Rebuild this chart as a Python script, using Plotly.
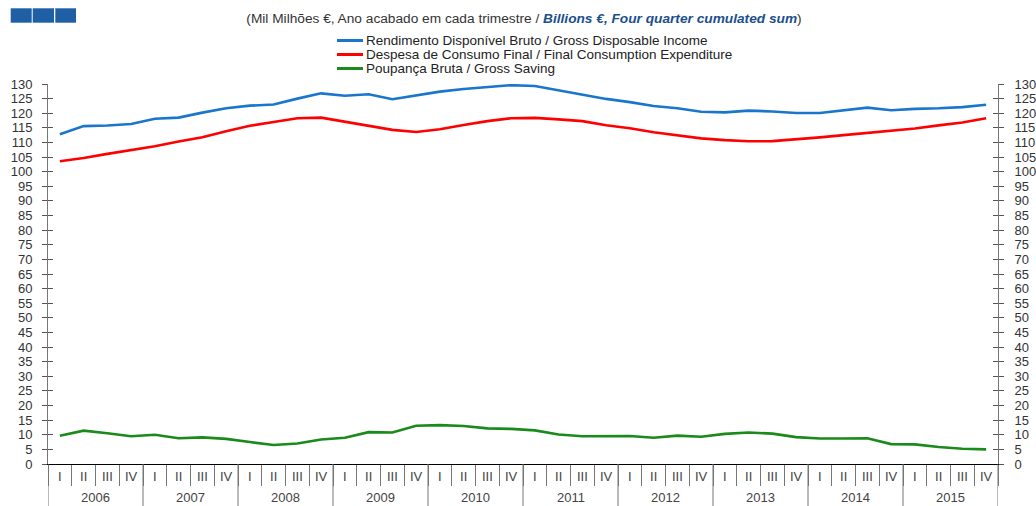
import plotly.graph_objects as go

years = ["2006", "2007", "2008", "2009", "2010", "2011", "2012", "2013", "2014", "2015"]
quarters = ["I", "II", "III", "IV"]

gdi = [112.8, 115.6, 115.8, 116.3, 118.1, 118.5, 120.2, 121.7, 122.6, 123.0,
       125.0, 126.8, 126.0, 126.5, 124.8, 126.2, 127.4, 128.3, 128.9, 129.6,
       129.3, 127.8, 126.4, 124.9, 123.8, 122.5, 121.7, 120.5, 120.3, 120.9,
       120.6, 120.1, 120.1, 120.9, 121.9, 121.0, 121.5, 121.7, 122.1, 122.9]
fce = [103.6, 104.7, 106.1, 107.3, 108.7, 110.3, 111.8, 113.8, 115.7, 117.0,
       118.3, 118.5, 117.1, 115.7, 114.3, 113.6, 114.5, 116.0, 117.3, 118.3,
       118.4, 117.9, 117.3, 115.9, 114.85, 113.5, 112.35, 111.4, 110.8, 110.4,
       110.45, 111.0, 111.75, 112.5, 113.25, 113.95, 114.8, 115.85, 116.8, 118.3]
saving = [9.7, 11.4, 10.5, 9.5, 10.0, 8.8, 9.1, 8.6, 7.5, 6.5,
          7.0, 8.4, 9.0, 10.9, 10.8, 13.1, 13.3, 13.0, 12.2, 12.0,
          11.5, 10.1, 9.5, 9.5, 9.6, 9.0, 9.7, 9.3, 10.3, 10.8,
          10.4, 9.2, 8.7, 8.7, 8.8, 6.8, 6.7, 5.8, 5.2, 5.0]

names = ["Rendimento Disponível Bruto / Gross Disposable Income",
         "Despesa de Consumo Final / Final Consumption Expenditure",
         "Poupança Bruta / Gross Saving"]
colors = ["#1A76CC", "#FF0000", "#1A8A1A"]

title_pt = "(Mil Milhões €, Ano acabado em cada trimestre / "
title_en = "Billions €, Four quarter cumulated sum"

keys = [y + " " + q for y in years for q in quarters]
qlabels = [q for y in years for q in quarters]

# plot area in pixels (for positioning legend/decoration)
L, R, T, B = 48, 998, 84, 464
W, H = R - L, B - T
def px(xp):
    return (xp - L) / W
def py(yp):
    return (B - yp) / H

fig = go.Figure()
for vals, nm, col in zip([gdi, fce, saving], names, colors):
    fig.add_trace(go.Scatter(x=keys, y=vals, name=nm, mode="lines", showlegend=False,
                             line=dict(color=col, width=2.6), hoverinfo="skip"))
# transparent copies so the secondary axes (right labels, crossing ticks) are drawn
for ax in ["y2", "y3", "y4"]:
    fig.add_trace(go.Scatter(x=keys, y=gdi, yaxis=ax, mode="lines", opacity=0,
                             showlegend=False, hoverinfo="skip",
                             line=dict(color=colors[0], width=1)))

tickvals = list(range(0, 131, 5))
tickfont = dict(family="Liberation Sans, Arial", size=13, color="#333333")
common_y = dict(range=[0, 130], tickmode="array", tickvals=tickvals,
                showgrid=False, zeroline=False, fixedrange=True, automargin=False)

fig.update_layout(
    width=1036, height=506,
    margin=dict(l=L, r=1036 - R, t=T, b=506 - B, autoexpand=False),
    paper_bgcolor="white", plot_bgcolor="white",
    font=dict(family="Liberation Sans, Arial", size=13, color="#333333"),
    title=dict(
        text=title_pt + "<b><i><span style='color:#1B4F8C'>" + title_en + "</span></i></b>)",
        x=524 / 1036, xref="container", xanchor="center",
        y=1 - 18 / 506, yref="container", yanchor="middle",
        font=dict(family="Liberation Sans, Arial", size=13.7, color="#333333")),
    showlegend=False,
    xaxis=dict(type="category", categoryorder="array", categoryarray=keys,
               range=[-0.5, len(keys) - 0.5],
               tickmode="array", tickvals=keys, ticktext=qlabels,
               showline=True, linecolor="#000000", linewidth=1,
               ticks="outside", tickson="boundaries", ticklen=21, tickcolor="#777777",
               tickfont=dict(family="Liberation Sans, Arial", size=13, color="#444444"),
               showgrid=False, fixedrange=True, automargin=False),
    yaxis=dict(side="left", showline=True, linecolor="#777777", linewidth=1,
               ticks="outside", ticklen=5, tickcolor="#555555",
               tickfont=tickfont, ticklabelstandoff=7, **common_y),
    yaxis2=dict(side="right", overlaying="y", showline=True, linecolor="#777777", linewidth=1,
                ticks="outside", ticklen=5, tickcolor="#555555",
                tickfont=tickfont, ticklabelstandoff=8, **common_y),
    yaxis3=dict(side="left", overlaying="y", showline=False,
                ticks="inside", ticklen=5, tickcolor="#555555",
                showticklabels=False, **common_y),
    yaxis4=dict(side="right", overlaying="y", showline=False,
                ticks="inside", ticklen=5, tickcolor="#555555",
                showticklabels=False, **common_y),
)

# year labels and year dividers below the quarter labels
n_q = len(quarters)
for k, yr in enumerate(years):
    fig.add_annotation(text=yr, xref="x", yref="paper", x=k * n_q + (n_q - 1) / 2,
                       y=py(497), yanchor="middle", xanchor="center", showarrow=False,
                       borderpad=0,
                       font=dict(family="Liberation Sans, Arial", size=13, color="#444444"))
for k in range(len(years) + 1):
    fig.add_shape(type="line", xref="x", yref="paper",
                  x0=k * n_q - 0.5, x1=k * n_q - 0.5, y0=py(506), y1=0,
                  line=dict(color="#777777", width=1))

# legend (drawn as annotations + short line samples)
legend_rows = [40.5, 54.5, 68.5]
for nm, col, ry in zip(names, colors, legend_rows):
    fig.add_shape(type="line", xref="paper", yref="paper",
                  x0=px(337), x1=px(363), y0=py(ry), y1=py(ry),
                  line=dict(color=col, width=3))
    fig.add_annotation(text=nm, xref="paper", yref="paper", x=px(365), y=py(ry),
                       xanchor="left", yanchor="middle", showarrow=False,
                       borderpad=0,
                       font=dict(family="Liberation Sans, Arial", size=13.5, color="#222222"))

# logo blocks top-left
for x0, x1 in [(10.7, 31.7), (32.7, 54), (55.3, 76)]:
    fig.add_shape(type="rect", xref="paper", yref="paper",
                  x0=px(x0), x1=px(x1), y0=py(22.7), y1=py(8.3),
                  fillcolor="#1F5FA6", line=dict(width=0))

fig.write_html("out.html", config={"displayModeBar": False},
               post_script="document.body.style.margin='0px';")
